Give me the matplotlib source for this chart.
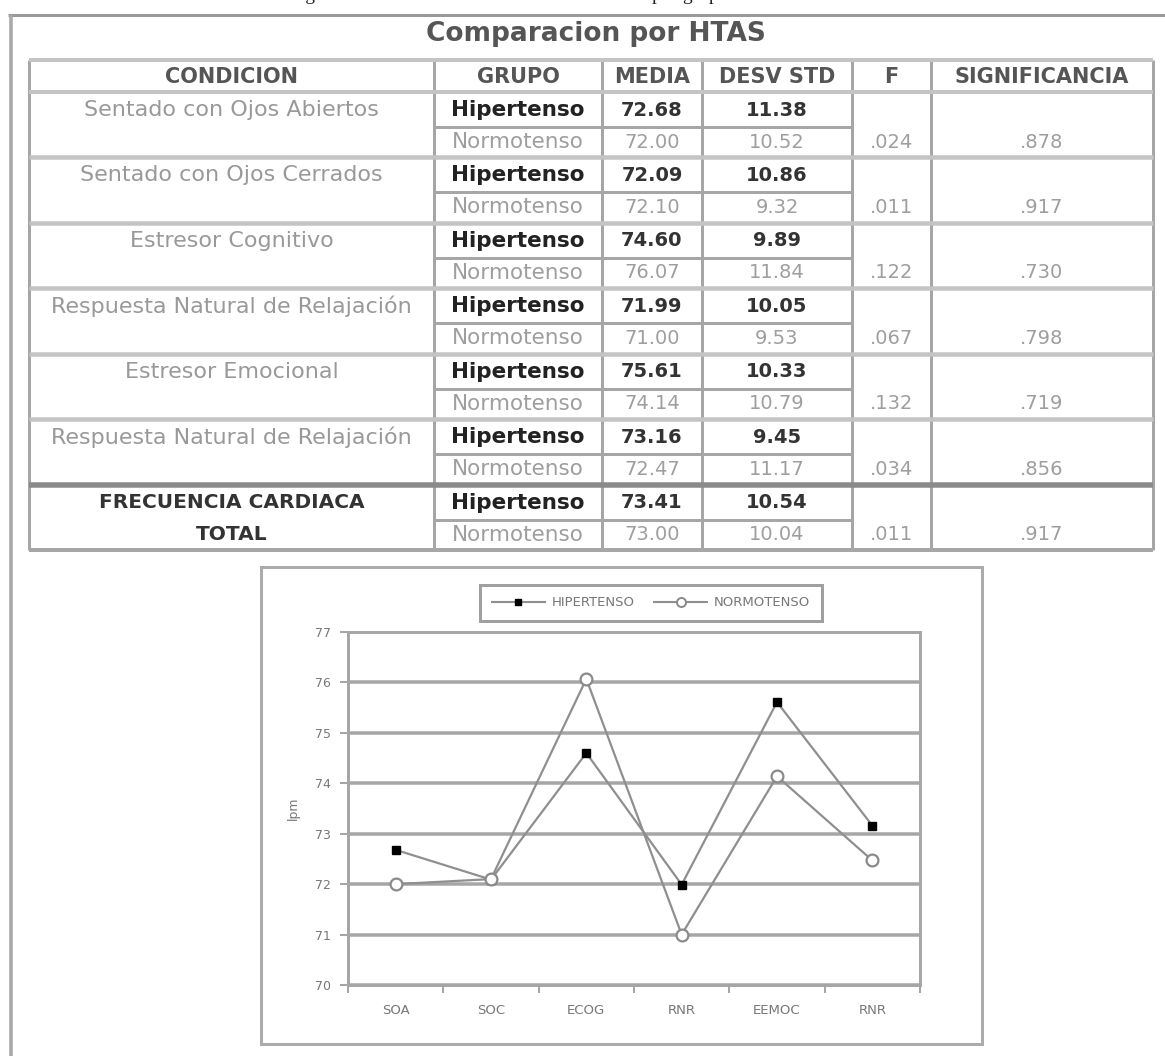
import matplotlib.pyplot as plt
from matplotlib.lines import Line2D
from matplotlib.patches import Rectangle

plt.rcParams['font.family'] = ['DejaVu Sans']

# ---------------- datos de la tabla ----------------
conditions = ["Sentado con Ojos Abiertos", "Sentado con Ojos Cerrados", "Estresor Cognitivo",
              "Respuesta Natural de Relajación", "Estresor Emocional",
              "Respuesta Natural de Relajación", "FRECUENCIA CARDIACA\nTOTAL"]
hip_media = [72.68, 72.09, 74.60, 71.99, 75.61, 73.16, 73.41]
hip_sd = [11.38, 10.86, 9.89, 10.05, 10.33, 9.45, 10.54]
norm_media = [72.00, 72.10, 76.07, 71.00, 74.14, 72.47, 73.00]
norm_sd = [10.52, 9.32, 11.84, 9.53, 10.79, 11.17, 10.04]
f_vals = [".024", ".011", ".122", ".067", ".132", ".034", ".011"]
sig_vals = [".878", ".917", ".730", ".798", ".719", ".856", ".917"]
headers = ["CONDICION", "GRUPO", "MEDIA", "DESV STD", "F", "SIGNIFICANCIA"]

# ---------------- datos de la grafica ----------------
categories = ["SOA", "SOC", "ECOG", "RNR", "EEMOC", "RNR"]
hip_chart = hip_media[:6]
norm_chart = norm_media[:6]
y_ticks = [70, 71, 72, 73, 74, 75, 76, 77]

W, H = 1165, 1056
PX = 0.72  # px -> pt a 100 dpi

fig = plt.figure(figsize=(W / 100, H / 100), dpi=100)
bg = fig.add_axes([0, 0, 1, 1])
bg.set_xlim(0, W)
bg.set_ylim(H, 0)
bg.axis('off')

GRID = '#a6a6a6'
LIGHT = '#c4c4c4'

# pie de la figura anterior (cortado arriba)
bg.text(582, 0.5, "Figura 3. Promedio de la Frecuencia Cardiaca por grupo en cada condición",
        family='Liberation Serif', fontsize=14, ha='center', va='baseline', color='#222')

# marco exterior
bg.plot([8, W], [15, 15], color='#9a9a9a', lw=3 * PX, solid_capstyle='butt')
bg.plot([11, 11], [15, H], color='#a8a8a8', lw=3.5 * PX, solid_capstyle='butt')

bg.text(596, 34, "Comparacion por HTAS", fontsize=19, fontweight='bold',
        ha='center', va='center', color='#555')

# ---------------- tabla ----------------
cols = [29, 434, 602, 702, 852, 931, 1153]
t_top, h_bot, t_bot = 60, 92, 550
block = (t_bot - h_bot) / len(conditions)

for x in cols:
    bg.plot([x, x], [t_top, t_bot], color=GRID, lw=3 * PX, solid_capstyle='butt')
bg.plot([cols[0], cols[-1]], [t_top, t_top], color=LIGHT, lw=4 * PX, solid_capstyle='butt')
bg.plot([cols[0], cols[-1]], [h_bot, h_bot], color=LIGHT, lw=4 * PX, solid_capstyle='butt')
bg.plot([cols[0], cols[-1]], [t_bot, t_bot], color=GRID, lw=4 * PX, solid_capstyle='butt')

for x0, x1, lab in zip(cols[:-1], cols[1:], headers):
    bg.text((x0 + x1) / 2, (t_top + h_bot) / 2 + 1, lab, fontsize=15, fontweight='bold',
            ha='center', va='center', color='#555')

for i, cond in enumerate(conditions):
    top = h_bot + i * block
    sub = top + 35
    hy, ny = top + 18, top + 50
    if i > 0:
        last = i == len(conditions) - 1
        bg.plot([cols[0], cols[-1]], [top, top], color='#8a8a8a' if last else LIGHT,
                lw=(5.5 if last else 4.5) * PX, solid_capstyle='butt')
    bg.plot([cols[1], cols[4]], [sub, sub], color=GRID, lw=3 * PX, solid_capstyle='butt')

    cx = (cols[0] + cols[1]) / 2
    if "\n" in cond:
        l1, l2 = cond.split("\n")
        bg.text(cx, hy, l1, fontsize=14.5, fontweight='bold', ha='center', va='center', color='#333')
        bg.text(cx, ny, l2, fontsize=14.5, fontweight='bold', ha='center', va='center', color='#333')
    else:
        bg.text(cx, hy, cond, fontsize=16, ha='center', va='center', color='#999')

    gx = (cols[1] + cols[2]) / 2
    bg.text(gx, hy, "Hipertenso", fontsize=15.5, fontweight='bold', ha='center', va='center', color='#222')
    bg.text(gx, ny, "Normotenso", fontsize=15.5, ha='center', va='center', color='#9e9e9e')
    mx = (cols[2] + cols[3]) / 2
    sx = (cols[3] + cols[4]) / 2
    bg.text(mx, hy, f"{hip_media[i]:.2f}", fontsize=14, fontweight='bold', ha='center', va='center', color='#333')
    bg.text(mx, ny, f"{norm_media[i]:.2f}", fontsize=14, ha='center', va='center', color='#9e9e9e')
    bg.text(sx, hy, f"{hip_sd[i]:.2f}", fontsize=14, fontweight='bold', ha='center', va='center', color='#333')
    bg.text(sx, ny, f"{norm_sd[i]:.2f}", fontsize=14, ha='center', va='center', color='#9e9e9e')
    bg.text((cols[4] + cols[5]) / 2, ny, f_vals[i], fontsize=14, ha='center', va='center', color='#9e9e9e')
    bg.text((cols[5] + cols[6]) / 2, ny, sig_vals[i], fontsize=14, ha='center', va='center', color='#9e9e9e')

# ---------------- grafica ----------------
bg.add_patch(Rectangle((261, 567), 982 - 261, 1044 - 567, fill=False,
                       edgecolor='#ababab', lw=3 * PX))

pl, pr, pt, pb = 348, 920, 632, 985
ax = fig.add_axes([pl / W, 1 - pb / H, (pr - pl) / W, (pb - pt) / H])
xs = list(range(len(categories)))
ax.set_xlim(-0.5, len(categories) - 0.5)
ax.set_ylim(70, 77)
ax.set_yticks(y_ticks)
ax.set_yticklabels([str(v) for v in y_ticks], fontsize=9, color='#777')
ax.set_xticks(xs)
ax.set_xticklabels(categories, fontsize=9.5, color='#777')
ax.set_xticks([x - 0.5 for x in xs] + [len(categories) - 0.5], minor=True)
ax.tick_params(axis='x', which='major', length=0, pad=14)
ax.tick_params(axis='x', which='minor', length=6, width=2 * PX, color=GRID, direction='out')
ax.tick_params(axis='y', length=6, width=2 * PX, color=GRID, pad=6)
for v in y_ticks:
    ax.axhline(v, color=GRID, lw=3.5 * PX, zorder=1)
for s in ax.spines.values():
    s.set_color(GRID)
    s.set_linewidth(3 * PX)

ax.plot(xs, hip_chart, color='#8f8f8f', lw=1.6, marker='s', ms=6,
        mfc='black', mec='black', zorder=3, label='HIPERTENSO')
ax.plot(xs, norm_chart, color='#8f8f8f', lw=1.6, marker='o', ms=8.5,
        mfc='white', mec='#8a8a8a', mew=1.6, zorder=3, label='NORMOTENSO')

fig.text(293 / W, 1 - 808 / H, "lpm", rotation=90, fontsize=9, color='#777',
         ha='center', va='center')

handles = [Line2D([], [], color='#8f8f8f', lw=1.5, marker='s', ms=4.5, mfc='black', mec='black'),
           Line2D([], [], color='#8f8f8f', lw=1.5, marker='o', ms=6.5, mfc='white', mec='#8a8a8a', mew=1.4)]
leg = fig.legend(handles, ['HIPERTENSO', 'NORMOTENSO'], loc='center', ncol=2,
                 bbox_to_anchor=(651 / W, 1 - 603 / H), bbox_transform=fig.transFigure,
                 fontsize=9.5, handlelength=4.0, handletextpad=0.5, columnspacing=1.5,
                 borderpad=0.9, fancybox=False, framealpha=1)
leg.get_frame().set_edgecolor('#a0a0a0')
leg.get_frame().set_linewidth(3 * PX)
for t in leg.get_texts():
    t.set_color('#777')

fig.savefig('out.png', dpi=100)
